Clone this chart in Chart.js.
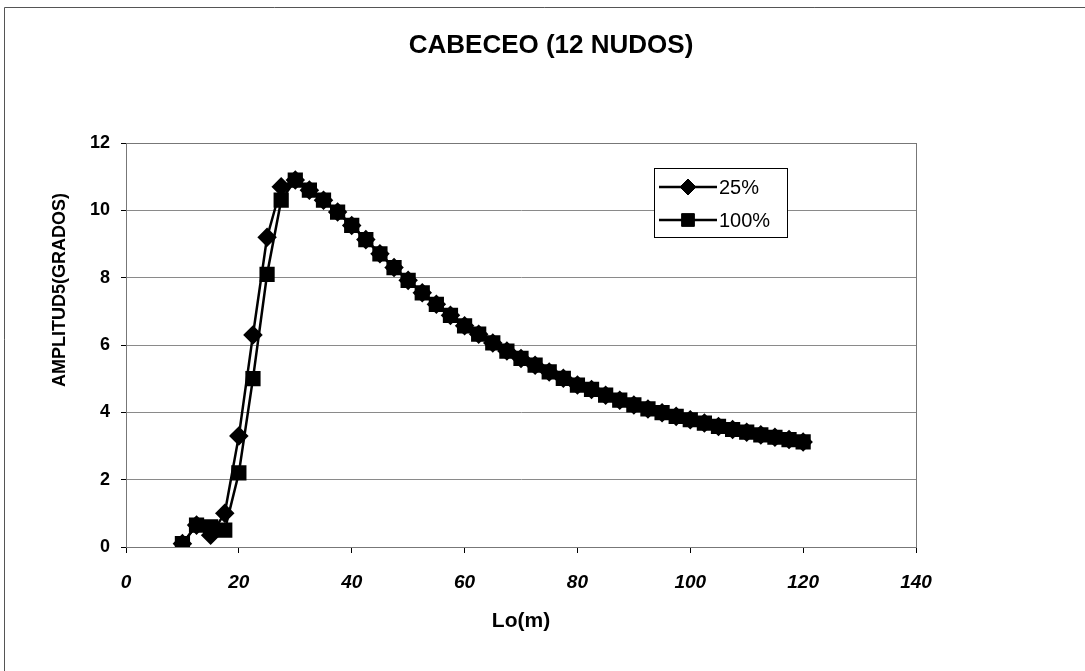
<!DOCTYPE html>
<html>
<head>
<meta charset="utf-8">
<script src="https://cdn.jsdelivr.net/npm/chart.js@4"></script>
<style>
    html, body { margin: 0; padding: 0; background: #fff; }
    #wrap { width: 1085px; height: 671px; position: relative; }
</style>
</head>
<body>
<div id="wrap"><canvas id="mainChart" width="1085" height="671"></canvas></div>
<script>
const FONT = "'Liberation Sans', Arial, sans-serif";

// Lo(m) values shared by both series
const lengths = [10, 12.5, 15, 17.5, 20, 22.5, 25, 27.5, 30, 32.5, 35, 37.5, 40, 42.5, 45, 47.5, 50,
    52.5, 55, 57.5, 60, 62.5, 65, 67.5, 70, 72.5, 75, 77.5, 80, 82.5, 85, 87.5, 90, 92.5, 95, 97.5,
    100, 102.5, 105, 107.5, 110, 112.5, 115, 117.5, 120];

const amp25 = [0.1, 0.65, 0.35, 1.0, 3.3, 6.3, 9.2, 10.7, 10.9, 10.6, 10.3, 9.95, 9.55, 9.13, 8.71,
    8.30, 7.92, 7.55, 7.21, 6.88, 6.57, 6.32, 6.06, 5.82, 5.60, 5.40, 5.20, 5.01, 4.81, 4.68, 4.51,
    4.36, 4.22, 4.10, 3.99, 3.88, 3.78, 3.68, 3.58, 3.49, 3.41, 3.33, 3.26, 3.19, 3.12];

const amp100 = [0.1, 0.65, 0.6, 0.5, 2.2, 5.0, 8.1, 10.3, 10.9, 10.6, 10.3, 9.95, 9.55, 9.13, 8.71,
    8.30, 7.92, 7.55, 7.21, 6.88, 6.57, 6.32, 6.06, 5.82, 5.60, 5.40, 5.20, 5.01, 4.81, 4.68, 4.51,
    4.36, 4.22, 4.10, 3.99, 3.88, 3.78, 3.68, 3.58, 3.49, 3.41, 3.33, 3.26, 3.19, 3.12];

const seriesLabels = ['25%', '100%'];
const xRange = [0, 140, 20];
const yRange = [0, 12, 2];

function toPoints(xs, ys) {
    return xs.map((x, i) => ({x: x, y: ys[i]}));
}

// white background, scanned page frame, plot outline
const pageFrame = {
    id: 'pageFrame',
    beforeDraw(chart) {
        const ctx = chart.ctx;
        ctx.save();
        ctx.fillStyle = '#fff';
        ctx.fillRect(0, 0, chart.width, chart.height);
        ctx.strokeStyle = '#555';
        ctx.lineWidth = 1;
        ctx.beginPath();
        ctx.moveTo(4.5, chart.height);
        ctx.lineTo(4.5, 7.5);
        ctx.lineTo(chart.width, 7.5);
        ctx.stroke();
        ctx.restore();
    },
    beforeDatasetsDraw(chart) {
        const {ctx, chartArea} = chart;
        ctx.save();
        ctx.strokeStyle = '#777';
        ctx.lineWidth = 1;
        ctx.strokeRect(chartArea.left + 0.5, chartArea.top + 0.5,
            chartArea.right - chartArea.left, chartArea.bottom - chartArea.top);
        ctx.restore();
    }
};

// title over the whole page and the rotated y title
const texts = {
    id: 'texts',
    afterDraw(chart) {
        const ctx = chart.ctx;
        ctx.save();
        ctx.fillStyle = '#000';
        ctx.textAlign = 'center';
        ctx.textBaseline = 'middle';
        ctx.font = 'bold 26px ' + FONT;
        ctx.fillText('CABECEO (12 NUDOS)', 551, 46);
        ctx.translate(60, 290);
        ctx.rotate(-Math.PI / 2);
        ctx.font = 'bold 18px ' + FONT;
        ctx.fillText('AMPLITUD5(GRADOS)', 0, 0);
        ctx.restore();
    }
};

// legend box floating inside the plot
const boxLegend = {
    id: 'boxLegend',
    afterDraw(chart) {
        const ctx = chart.ctx;
        const x0 = 654, y0 = 168, w = 133, h = 69;
        ctx.save();
        ctx.fillStyle = '#fff';
        ctx.fillRect(x0, y0, w, h);
        ctx.strokeStyle = '#000';
        ctx.lineWidth = 1;
        ctx.strokeRect(x0 + 0.5, y0 + 0.5, w, h);
        chart.data.datasets.forEach((ds, i) => {
            const cy = y0 + 19 + i * 33;
            ctx.strokeStyle = '#000';
            ctx.lineWidth = 2.5;
            ctx.beginPath();
            ctx.moveTo(x0 + 5, cy);
            ctx.lineTo(x0 + 63, cy);
            ctx.stroke();
            ctx.fillStyle = '#000';
            ctx.lineWidth = 1;
            Chart.helpers.drawPoint(ctx, {
                pointStyle: ds.pointStyle,
                radius: ds.pointRadius,
                borderWidth: 1
            }, x0 + 34, cy);
            ctx.font = '20px ' + FONT;
            ctx.textAlign = 'left';
            ctx.textBaseline = 'middle';
            ctx.fillText(ds.label, x0 + 65, cy + 1);
        });
        ctx.restore();
    }
};

function setupCanvas() {
    const ctx = document.getElementById('mainChart').getContext('2d');
    const data = {
        datasets: [
            {
                label: seriesLabels[0],
                data: toPoints(lengths, amp25),
                borderColor: '#000',
                backgroundColor: '#000',
                borderWidth: 2.5,
                pointStyle: 'rectRot',
                pointRadius: 8,
                pointHoverRadius: 8,
                order: 1
            },
            {
                label: seriesLabels[1],
                data: toPoints(lengths, amp100),
                borderColor: '#000',
                backgroundColor: '#000',
                borderWidth: 2.5,
                pointStyle: 'rect',
                pointRadius: 9,
                pointHoverRadius: 9,
                order: 0
            }
        ]
    };
    const config = {
        type: 'line',
        data: data,
        options: {
            responsive: false,
            animation: false,
            layout: {padding: {left: 0, right: 169, top: 143, bottom: 0}},
            elements: {line: {tension: 0}},
            scales: {
                x: {
                    type: 'linear',
                    min: xRange[0],
                    max: xRange[1],
                    ticks: {
                        stepSize: xRange[2],
                        color: '#000',
                        font: {family: FONT, size: 19, weight: 'bold', style: 'italic'},
                        padding: 18,
                        maxRotation: 0
                    },
                    grid: {drawOnChartArea: false, tickLength: 6, tickColor: '#000'},
                    border: {color: '#000', width: 1},
                    title: {
                        display: true,
                        text: 'Lo(m)',
                        color: '#000',
                        font: {family: FONT, size: 21, weight: 'bold'},
                        padding: {top: 0, bottom: 37}
                    },
                    afterFit(scale) { scale.height = 124; }
                },
                y: {
                    min: yRange[0],
                    max: yRange[1],
                    ticks: {
                        stepSize: yRange[2],
                        color: '#000',
                        font: {family: FONT, size: 18, weight: 'bold'},
                        padding: 11
                    },
                    grid: {color: '#8a8a8a', tickColor: '#000', tickLength: 5},
                    border: {color: '#000', width: 1},
                    afterFit(scale) { scale.width = 126; }
                }
            },
            plugins: {
                legend: {display: false},
                tooltip: {enabled: false},
                title: {display: false}
            }
        },
        plugins: [pageFrame, texts, boxLegend]
    };
    return new Chart(ctx, config);
}

const mainChart = setupCanvas();
</script>
</body>
</html>
